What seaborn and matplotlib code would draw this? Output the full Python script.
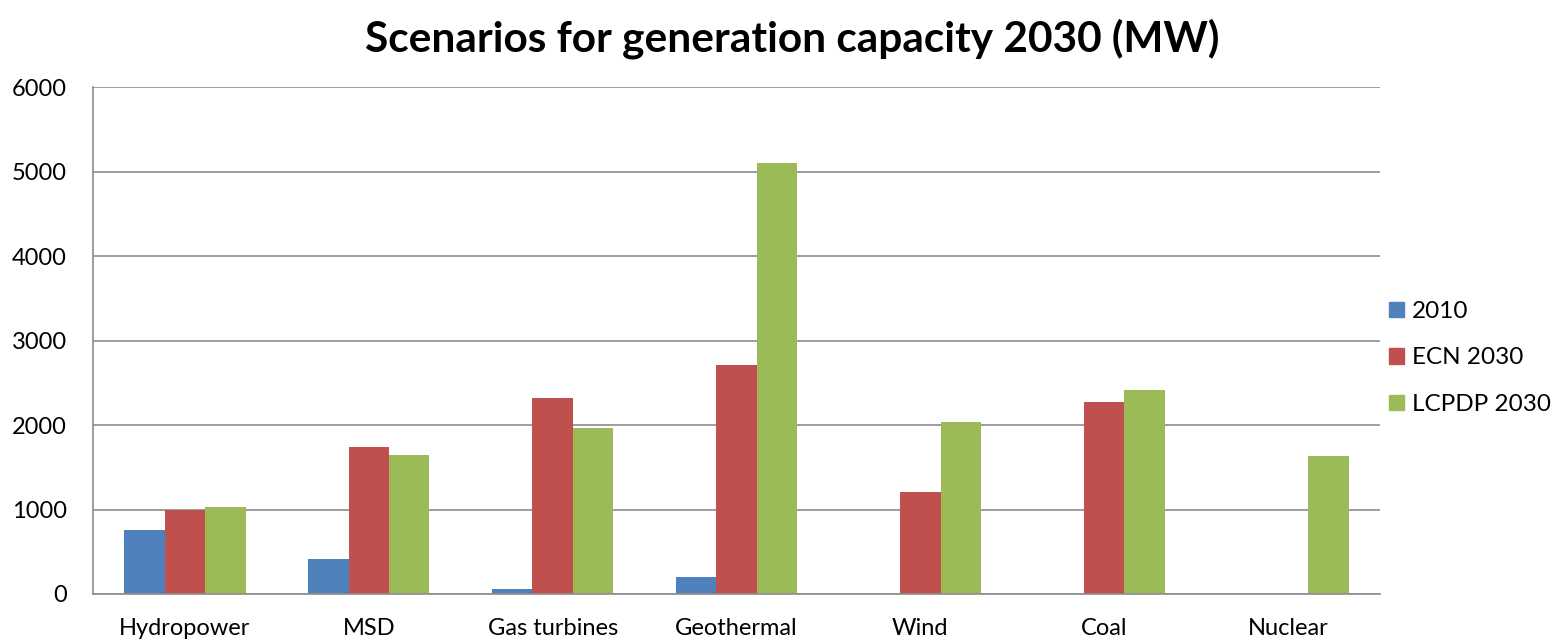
import pandas as pd
import numpy as np
import matplotlib.pyplot as plt
import seaborn as sns

# chart data (MW)
categories = ['Hydropower', 'MSD', 'Gas turbines', 'Geothermal', 'Wind', 'Coal', 'Nuclear']
series = ['2010', 'ECN 2030', 'LCPDP 2030']
cap_2010 = [760, 415, 65, 200, 0, 0, 0]
cap_ecn = [1000, 1740, 2320, 2715, 1210, 2270, 0]
cap_lcpdp = [1035, 1645, 1970, 5100, 2030, 2415, 1635]
colors = ['#4F81BD', '#C0504D', '#9BBB59']

df = pd.DataFrame({
    'category': categories * 3,
    'series': [s for s in series for _ in categories],
    'value': cap_2010 + cap_ecn + cap_lcpdp,
})

sns.set_style('white')
plt.rcParams['font.family'] = ['Lato', 'DejaVu Sans']
plt.rcParams['text.color'] = 'black'

fig = plt.figure(figsize=(15.67, 6.43), dpi=100)
ax = fig.add_axes([93 / 1567, 1 - 594 / 643, 1287 / 1567, 507 / 643])

sns.barplot(data=df, x='category', y='value', hue='series', order=categories,
            hue_order=series, palette=colors, width=0.66, saturation=1,
            edgecolor='none', ax=ax)

ax.set_ylim(0, 6000)
ax.set_xlim(-0.5, len(categories) - 0.5)
ax.set_yticks(range(0, 6001, 1000))
ax.yaxis.grid(True, color='#8c8c8c', linewidth=1.2)
ax.set_axisbelow(True)
for side in ['top', 'right']:
    ax.spines[side].set_visible(False)
for side in ['left', 'bottom']:
    ax.spines[side].set_color('#8c8c8c')
    ax.spines[side].set_linewidth(1.2)
ax.tick_params(axis='both', length=0, labelsize=17, colors='black')
ax.tick_params(axis='x', pad=17)
ax.tick_params(axis='y', pad=19)
ax.set_xlabel('')
ax.set_ylabel('')

fig.suptitle('Scenarios for generation capacity 2030 (MW)', fontsize=30.5,
             fontweight='bold', color='black', x=792 / 1567, y=1 - 18 / 643, va='top')

handles = [plt.Rectangle((0, 0), 1, 1, color=c) for c in colors]
ax.legend(handles, series, loc='center left',
          bbox_to_anchor=(1389 / 1567, 1 - 358 / 643),
          bbox_transform=fig.transFigure, frameon=False, fontsize=17.5,
          labelcolor='black', borderaxespad=0, borderpad=0,
          handlelength=0.6, handleheight=0.6, handletextpad=0.35, labelspacing=1.05)

plt.savefig('out.png', dpi=100)
plt.close()
